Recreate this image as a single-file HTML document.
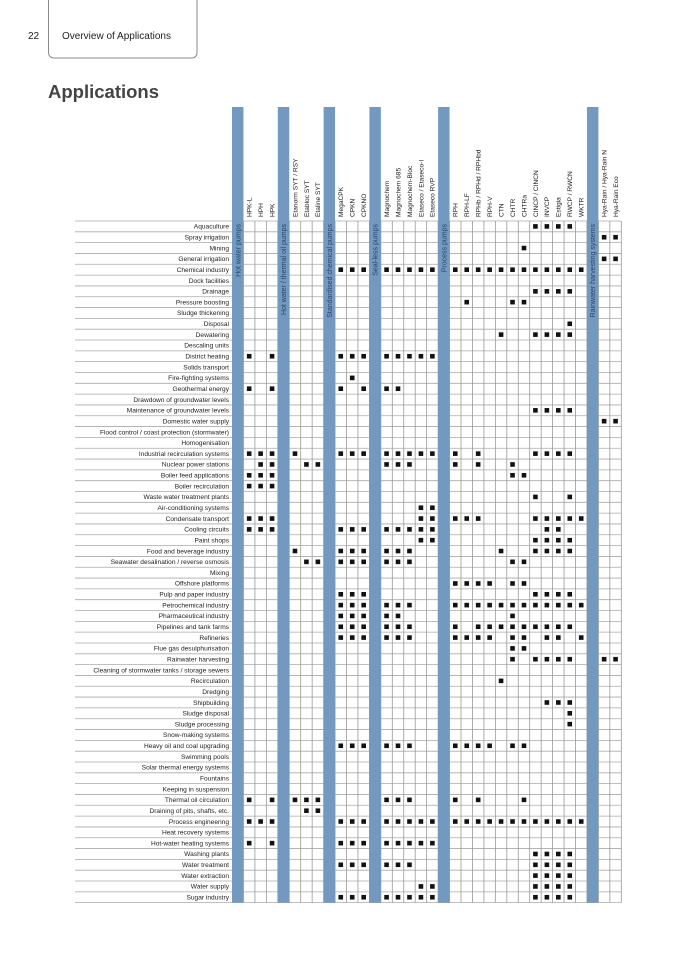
<!DOCTYPE html>
<html><head><meta charset="utf-8">
<style>
html,body{margin:0;padding:0;background:#fff;}
svg{display:block;font-family:"Liberation Sans",sans-serif;}
</style></head>
<body>
<svg id="s" width="697" height="978" viewBox="0 0 697 978" xmlns="http://www.w3.org/2000/svg">
<path d="M48.5,0 V52 Q48.5,58 54.5,58 H191 Q197,58 197,52 V0" fill="none" stroke="#888" stroke-width="1"/>
<text x="28" y="39" font-size="10" fill="#222">22</text>
<text x="62" y="39" font-size="10" fill="#222">Overview of Applications</text>
<text x="48" y="98" font-size="18.5" font-weight="bold" fill="#444">Applications</text>
<g id="grid"></g>
<g id="blue"></g>
<g id="marks"></g>
<g font-size="6.6" fill="#222" text-anchor="end">
<text x="229" y="228.7">Aquaculture</text>
<text x="229" y="239.5">Spray irrigation</text>
<text x="229" y="250.3">Mining</text>
<text x="229" y="261.1">General irrigation</text>
<text x="229" y="272.0">Chemical industry</text>
<text x="229" y="282.8">Dock facilities</text>
<text x="229" y="293.6">Drainage</text>
<text x="229" y="304.4">Pressure boosting</text>
<text x="229" y="315.2">Sludge thickening</text>
<text x="229" y="326.1">Disposal</text>
<text x="229" y="336.9">Dewatering</text>
<text x="229" y="347.7">Descaling units</text>
<text x="229" y="358.5">District heating</text>
<text x="229" y="369.3">Solids transport</text>
<text x="229" y="380.2">Fire-fighting systems</text>
<text x="229" y="391.0">Geothermal energy</text>
<text x="229" y="401.8">Drawdown of groundwater levels</text>
<text x="229" y="412.6">Maintenance of groundwater levels</text>
<text x="229" y="423.4">Domestic water supply</text>
<text x="229" y="434.3">Flood control / coast protection (stormwater)</text>
<text x="229" y="445.1">Homogenisation</text>
<text x="229" y="455.9">Industrial recirculation systems</text>
<text x="229" y="466.7">Nuclear power stations</text>
<text x="229" y="477.5">Boiler feed applications</text>
<text x="229" y="488.4">Boiler recirculation</text>
<text x="229" y="499.2">Waste water treatment plants</text>
<text x="229" y="510.0">Air-conditioning systems</text>
<text x="229" y="520.8">Condensate transport</text>
<text x="229" y="531.6">Cooling circuits</text>
<text x="229" y="542.5">Paint shops</text>
<text x="229" y="553.3">Food and beverage industry</text>
<text x="229" y="564.1">Seawater desalination / reverse osmosis</text>
<text x="229" y="574.9">Mixing</text>
<text x="229" y="585.7">Offshore platforms</text>
<text x="229" y="596.6">Pulp and paper industry</text>
<text x="229" y="607.4">Petrochemical industry</text>
<text x="229" y="618.2">Pharmaceutical industry</text>
<text x="229" y="629.0">Pipelines and tank farms</text>
<text x="229" y="639.8">Refineries</text>
<text x="229" y="650.7">Flue gas desulphurisation</text>
<text x="229" y="661.5">Rainwater harvesting</text>
<text x="229" y="672.3">Cleaning of stormwater tanks / storage sewers</text>
<text x="229" y="683.1">Recirculation</text>
<text x="229" y="693.9">Dredging</text>
<text x="229" y="704.8">Shipbuilding</text>
<text x="229" y="715.6">Sludge disposal</text>
<text x="229" y="726.4">Sludge processing</text>
<text x="229" y="737.2">Snow-making systems</text>
<text x="229" y="748.0">Heavy oil and coal upgrading</text>
<text x="229" y="758.9">Swimming pools</text>
<text x="229" y="769.7">Solar thermal energy systems</text>
<text x="229" y="780.5">Fountains</text>
<text x="229" y="791.3">Keeping in suspension</text>
<text x="229" y="802.1">Thermal oil circulation</text>
<text x="229" y="813.0">Draining of pits, shafts, etc.</text>
<text x="229" y="823.8">Process engineering</text>
<text x="229" y="834.6">Heat recovery systems</text>
<text x="229" y="845.4">Hot-water heating systems</text>
<text x="229" y="856.2">Washing plants</text>
<text x="229" y="867.1">Water treatment</text>
<text x="229" y="877.9">Water extraction</text>
<text x="229" y="888.7">Water supply</text>
<text x="229" y="899.5">Sugar industry</text>
</g>
<g font-size="6.6" fill="#222">
<text transform="translate(251.5,217) rotate(-90)">HPK-L</text>
<text transform="translate(263,217) rotate(-90)">HPH</text>
<text transform="translate(274.4,217) rotate(-90)">HPK</text>
<text transform="translate(297.3,217) rotate(-90)">Etanorm SYT / RSY</text>
<text transform="translate(308.8,217) rotate(-90)">Etabloc SYT</text>
<text transform="translate(320.2,217) rotate(-90)">Etaline SYT</text>
<text transform="translate(343.1,217) rotate(-90)">MegaCPK</text>
<text transform="translate(354.6,217) rotate(-90)">CPKN</text>
<text transform="translate(366,217) rotate(-90)">CPKNO</text>
<text transform="translate(388.9,217) rotate(-90)">Magnochem</text>
<text transform="translate(400.4,217) rotate(-90)">Magnochem 685</text>
<text transform="translate(411.8,217) rotate(-90)">Magnochem-Bloc</text>
<text transform="translate(423.3,217) rotate(-90)">Etaseco / Etaseco-I</text>
<text transform="translate(434.7,217) rotate(-90)">Etaseco RVP</text>
<text transform="translate(457.6,217) rotate(-90)">RPH</text>
<text transform="translate(469.1,217) rotate(-90)">RPH-LF</text>
<text transform="translate(480.5,217) rotate(-90)">RPHb / RPHd / RPHbd</text>
<text transform="translate(492,217) rotate(-90)">RPH-V</text>
<text transform="translate(503.4,217) rotate(-90)">CTN</text>
<text transform="translate(514.9,217) rotate(-90)">CHTR</text>
<text transform="translate(526.3,217) rotate(-90)">CHTRa</text>
<text transform="translate(537.8,217) rotate(-90)">CINCP / CINCN</text>
<text transform="translate(549.2,217) rotate(-90)">INVCP</text>
<text transform="translate(560.7,217) rotate(-90)">Estigia</text>
<text transform="translate(572.1,217) rotate(-90)">RWCP / RWCN</text>
<text transform="translate(583.6,217) rotate(-90)">WKTR</text>
<text transform="translate(606.5,217) rotate(-90)">Hya-Rain / Hya-Rain N</text>
<text transform="translate(617.9,217) rotate(-90)">Hya-Rain Eco</text>
</g>
<g id="glabels" font-size="7" fill="#24466e" text-anchor="end">
<text transform="translate(240.3,224) rotate(-90)">Hot water pumps</text>
<text transform="translate(286.1,224) rotate(-90)">Hot water / thermal oil pumps</text>
<text transform="translate(331.9,224) rotate(-90)">Standardised chemical pumps</text>
<text transform="translate(377.7,224) rotate(-90)">Seal-less pumps</text>
<text transform="translate(446.4,224) rotate(-90)">Process pumps</text>
<text transform="translate(594.8,224) rotate(-90)">Rainwater harvesting systems</text>
</g>
</svg>
<script>
(function(){
var NS="http://www.w3.org/2000/svg";
var X0=232,W=11.45,Y0=221,H=10.82,N=63;
var blueU=[0,4,8,12,18,31];
var prodU=[1,2,3,5,6,7,9,10,11,13,14,15,16,17,19,20,21,22,23,24,25,26,27,28,29,30,32,33];
var rows={1:[21,22,23,24],2:[26,27],3:[20],4:[26,27],5:[6,7,8,9,10,11,12,13,14,15,16,17,18,19,20,21,22,23,24,25],
7:[21,22,23,24],8:[15,19,20],10:[24],11:[18,21,22,23,24],13:[0,2,6,7,8,9,10,11,12,13],15:[7],16:[0,2,6,8,9,10],
18:[21,22,23,24],19:[26,27],22:[0,1,2,3,6,7,8,9,10,11,12,13,14,16,21,22,23,24],23:[1,2,4,5,9,10,11,14,16,19],
24:[0,1,2,19,20],25:[0,1,2],26:[21,24],27:[12,13],28:[0,1,2,12,13,14,15,16,21,22,23,24,25],
29:[0,1,2,6,7,8,9,10,11,12,13,22,23],30:[12,13,21,22,23,24],31:[3,6,7,8,9,10,11,18,21,22,23,24],
32:[4,5,6,7,8,9,10,11,19,20],34:[14,15,16,17,19,20],35:[6,7,8,21,22,23,24],
36:[6,7,8,9,10,11,14,15,16,17,18,19,20,21,22,23,24,25],37:[6,7,8,9,10,19],
38:[6,7,8,9,10,11,14,16,17,18,19,20,21,22,23,24],39:[6,7,8,9,10,11,14,15,16,17,19,20,22,23,25],
40:[19,20],41:[19,21,22,23,24,26,27],43:[18],45:[22,23,24],46:[24],47:[24],
49:[6,7,8,9,10,11,14,15,16,17,19,20],54:[0,2,3,4,5,9,10,11,14,16,20],55:[4,5],
56:[0,1,2,6,7,8,9,10,11,12,13,14,15,16,17,18,19,20,21,22,23,24,25],58:[0,2,6,7,8,9,10,11,12,13],
59:[21,22,23,24],60:[6,7,8,9,10,11,21,22,23,24],61:[21,22,23,24],62:[12,13,21,22,23,24],
63:[6,7,8,9,10,11,12,13,21,22,23,24]};
function el(p,t,a){var e=document.createElementNS(NS,t);for(var k in a)e.setAttribute(k,a[k]);p.appendChild(e);return e;}
var g=document.getElementById("grid"),b=document.getElementById("blue"),m=document.getElementById("marks");
var xe=X0+34*W;
for(var i=0;i<=N;i++){var y=Y0+i*H;el(g,"line",{x1:75,x2:xe,y1:y,y2:y,stroke:"#aaa","stroke-width":0.8});}
for(var u=1;u<=34;u++){var x=X0+u*W;el(g,"line",{x1:x,x2:x,y1:Y0,y2:Y0+N*H,stroke:"#999","stroke-width":0.8});}
blueU.forEach(function(u){el(b,"rect",{x:X0+u*W,y:107,width:W,height:Y0+N*H-107,fill:"#7399c1"});});
for(var r in rows){var cy=Y0+(r-1)*H+H/2;rows[r].forEach(function(c){var cx=X0+prodU[c]*W+W/2;
el(m,"rect",{x:cx-2.3,y:cy-2.3,width:4.6,height:4.6,fill:"#111"});});}
})();
</script>
</body></html>
